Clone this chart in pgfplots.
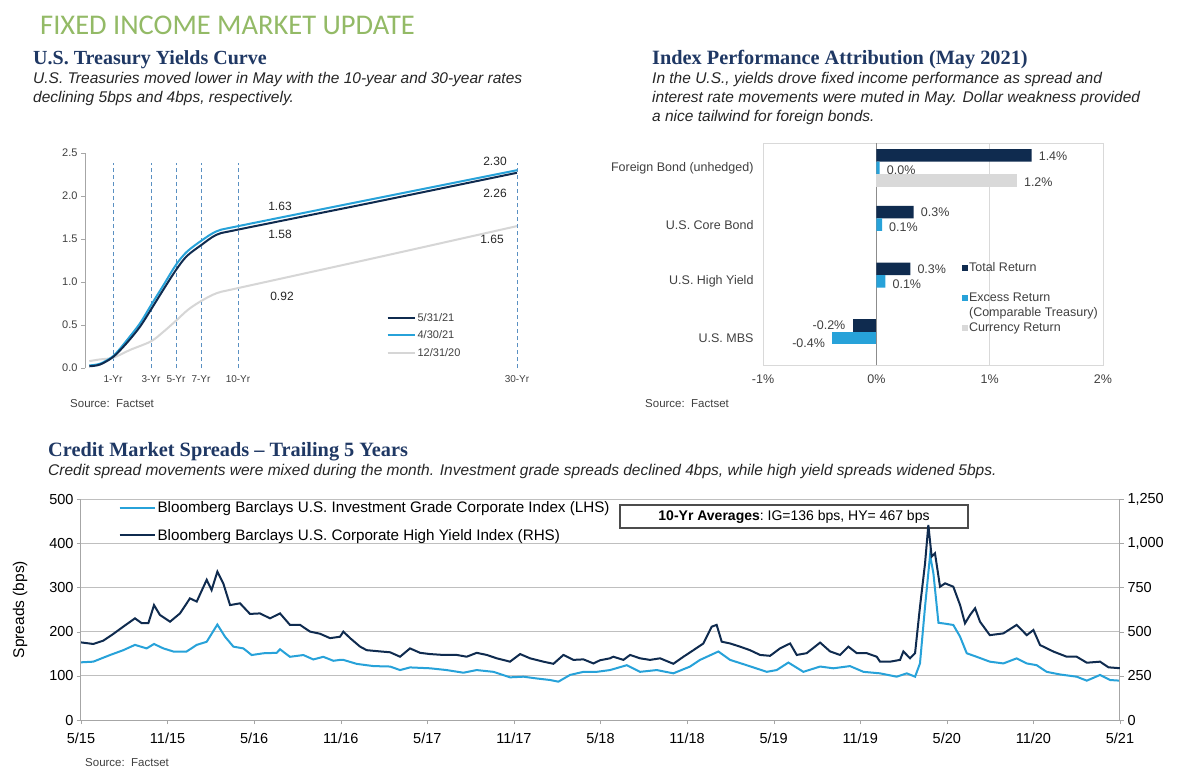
\documentclass[border=0pt]{standalone}
\usepackage{pgfplots}
\pgfplotsset{compat=1.18}
\usepackage{fontspec}
\setmainfont{Liberation Sans}
\newfontfamily\titlefont{Carlito}
\newfontfamily\headfont{Liberation Serif}
\definecolor{navy}{HTML}{0F2B4F}
\definecolor{ltblue}{HTML}{27A2D9}
\definecolor{curgray}{HTML}{D9D9D9}
\definecolor{oldgray}{HTML}{D6D6D6}
\definecolor{dashblue}{HTML}{5A90C2}
\definecolor{titlegreen}{HTML}{93BA66}
\definecolor{headnavy}{HTML}{1F3864}
\definecolor{txt}{HTML}{262626}
\definecolor{lbl}{HTML}{404040}
\definecolor{boxgray}{HTML}{D9D9D9}
\definecolor{zerogray}{HTML}{8C8C8C}
\definecolor{gridgray}{HTML}{BFBFBF}
\definecolor{axgray}{HTML}{A6A6A6}
\newcommand{\fs}[1]{\fontsize{#1}{#1}\selectfont}
\pgfplotsset{sqleg/.style={legend image code/.code={\fill[##1] (0pt,-3pt) rectangle (6pt,3pt);}}}
\begin{document}
\begin{tikzpicture}[x=1pt,y=1pt]
\path[use as bounding box] (0,0) rectangle (1200,-777);
\fill[white] (0,0) rectangle (1200,-777);

\node[anchor=base west,inner sep=0,text=titlegreen,font=\titlefont\fs{28.5}] at (40,-34) {FIXED INCOME MARKET UPDATE};

\node[anchor=base west,inner sep=0,text=headnavy,font=\headfont\bfseries\fs{20}] at (33,-64) {U.S. Treasury Yields Curve};
\node[anchor=base west,inner sep=0,text=txt,font=\itshape\fs{15.5}] at (33,-83) {U.S. Treasuries moved lower in May with the 10-year and 30-year rates};
\node[anchor=base west,inner sep=0,text=txt,font=\itshape\fs{15.5}] at (33,-102) {declining 5bps and 4bps, respectively.};

\node[anchor=base west,inner sep=0,text=headnavy,font=\headfont\bfseries\fs{20.3}] at (652,-64) {Index Performance Attribution (May 2021)};
\node[anchor=base west,inner sep=0,text=txt,font=\itshape\fs{15.5}] at (652,-83) {In the U.S., yields drove fixed income performance as spread and};
\node[anchor=base west,inner sep=0,text=txt,font=\itshape\fs{15.5}] at (652,-102) {interest rate movements were muted in May. Dollar weakness provided};
\node[anchor=base west,inner sep=0,text=txt,font=\itshape\fs{15.5}] at (652,-121) {a nice tailwind for foreign bonds.};

\node[anchor=base west,inner sep=0,text=headnavy,font=\headfont\bfseries\fs{20.3}] at (48,-456) {Credit Market Spreads – Trailing 5 Years};
\node[anchor=base west,inner sep=0,text=txt,font=\itshape\fs{15.5}] at (48,-475) {Credit spread movements were mixed during the month. Investment grade spreads declined 4bps, while high yield spreads widened 5bps.};

% ---------------- Yield curve
\begin{axis}[
  at={(85pt,-368pt)}, anchor=south west, scale only axis,
  width=440pt, height=215pt,
  xmin=0, xmax=440, ymin=0, ymax=2.5,
  axis lines*=left, axis line style={-},
  x axis line style={draw=none},
  y axis line style={draw=axgray},
  xtick={28,66,91,116,153,432},
  xticklabels={1-Yr,3-Yr,5-Yr,7-Yr,10-Yr,30-Yr},
  xtick style={draw=none},
  ytick={0,0.5,1,1.5,2,2.5},
  ytick style={draw=axgray},
  tick align=outside, major tick length=4pt,
  yticklabel style={/pgf/number format/.cd, fixed, fixed zerofill, precision=1},
  tick label style={font=\fs{11}, text=lbl},
  xticklabel style={font=\fs{10}},
  /pgf/number format/assume math mode=true,
  legend style={at={(rel axis cs:0.685,0.265)}, anchor=north west, draw=none, fill=none,
     font=\fs{11}, text=lbl, row sep=4pt, inner sep=0pt},
  legend cell align=left,
  legend image code/.code={\draw[#1] (0pt,0pt) -- (27pt,0pt);},
]
\addplot[ycomb, dashblue, line width=0.9pt, dash pattern=on 4pt off 3pt, forget plot]
  coordinates {(28,2.38) (66,2.38) (91,2.38) (116,2.38) (153,2.38) (432,2.38)};
\addplot[oldgray, line width=2pt, smooth, tension=0.5, forget plot] coordinates {
 (4.3,0.08) (15,0.10) (28.3,0.12) (45,0.21) (66,0.31) (78.3,0.42) (91,0.55) (103.3,0.68)
 (116.3,0.78) (131.7,0.87) (153.3,0.93) (290,1.28) (432,1.65)};
\addplot[ltblue, line width=2pt, smooth, tension=0.5, forget plot] coordinates {
 (4.3,0.03) (15,0.05) (28.3,0.14) (41.7,0.32) (55,0.52) (66,0.73) (78.3,0.96) (91,1.20)
 (101.7,1.35) (116.3,1.48) (131.7,1.59) (153.3,1.65) (290,1.97) (432,2.30)};
\addplot[navy, line width=2pt, smooth, tension=0.5] coordinates {
 (4.3,0.02) (15,0.04) (28.3,0.13) (41.7,0.29) (55,0.48) (66,0.68) (78.3,0.91) (91,1.14)
 (101.7,1.30) (116.3,1.43) (131.7,1.55) (153.3,1.61) (290,1.93) (432,2.27)};
\addlegendentry{5/31/21}
\addlegendimage{ltblue, line width=2pt}
\addlegendentry{4/30/21}
\addlegendimage{oldgray, line width=2pt}
\addlegendentry{12/31/20}
\node[font=\fs{12}, text=txt] at (axis cs:195,1.88) {1.63};
\node[font=\fs{12}, text=txt] at (axis cs:195,1.55) {1.58};
\node[font=\fs{12}, text=txt] at (axis cs:197,0.83) {0.92};
\node[font=\fs{12}, text=txt] at (axis cs:410,2.40) {2.30};
\node[font=\fs{12}, text=txt] at (axis cs:410,2.03) {2.26};
\node[font=\fs{12}, text=txt] at (axis cs:407,1.49) {1.65};
\end{axis}
\node[anchor=base west,inner sep=0,text=lbl,font=\fs{11.5}] at (70,-407) {Source:\ \ Factset};

% ---------------- Bar chart
\begin{axis}[
  at={(763pt,-365pt)}, anchor=south west, scale only axis,
  width=340pt, height=222pt,
  xmin=-1, xmax=2, ymin=-0.476, ymax=3.44,
  xtick={-1,0,1,2}, xticklabels={-1\%,0\%,1\%,2\%},
  ytick={0,1,2,3},
  yticklabels={U.S. MBS,U.S. High Yield,U.S. Core Bond,Foreign Bond (unhedged)},
  axis line style={draw=boxgray, line width=1pt},
  xmajorgrids, major grid style={draw=boxgray, line width=1pt},
  extra x ticks={0}, extra x tick labels={},
  extra x tick style={grid=major, major grid style={draw=zerogray, line width=1.2pt}},
  major tick length=0pt, tick style={draw=none},
  tick label style={font=\fs{12.5}, text=lbl},
  xticklabel style={yshift=-6pt},
  yticklabel style={font=\fs{12.5}, xshift=-6pt},
  /pgf/number format/assume math mode=true,
  bar width=12.5pt,
  point meta=explicit symbolic,
  nodes near coords,
  every node near coord/.append style={font=\fs{12.5}, text=lbl, inner xsep=7pt, inner ysep=0pt},
  pos/.style={every node near coord/.append style={anchor=west}},
  neg/.style={every node near coord/.append style={anchor=east}},
  legend style={at={(rel axis cs:0.585,0.47)}, anchor=north west, draw=none, fill=none,
     font=\fs{12.5}, text=lbl, row sep=0.5pt, inner sep=0pt,
     nodes={inner sep=1pt, text height=9.5pt, text depth=3pt}},
  legend cell align=left,
]
\addplot[xbar, sqleg, pos, fill=navy, draw=none, bar shift=12.5pt,
  every node near coord/.append style={yshift=12pt}] coordinates
 {(1.37,3) [1.4\%] (0.33,2) [0.3\%] (0.30,1) [0.3\%]};
\addlegendentry{Total Return}
\addplot[xbar, neg, fill=navy, draw=none, bar shift=12.5pt, forget plot,
  every node near coord/.append style={yshift=12.5pt}] coordinates
 {(-0.21,0) [-0.2\%]};
\addlegendimage{empty legend}\addlegendentry{}
\addplot[xbar, sqleg, pos, fill=ltblue, draw=none, bar shift=0pt,
  every node near coord/.append style={yshift=-2.5pt}] coordinates
 {(0.03,3) [0.0\%] (0.05,2) [0.1\%] (0.08,1) [0.1\%]};
\addlegendentry{Excess Return}
\addplot[xbar, neg, fill=ltblue, draw=none, bar shift=0pt, forget plot,
  every node near coord/.append style={yshift=-5pt}] coordinates
 {(-0.39,0) [-0.4\%]};
\addlegendimage{empty legend}\addlegendentry{(Comparable Treasury)}
\addplot[xbar, sqleg, pos, fill=curgray, draw=none, bar shift=-12.5pt,
  every node near coord/.append style={yshift=-14pt}] coordinates
 {(1.24,3) [1.2\%]};
\addlegendentry{Currency Return}
\end{axis}
\node[anchor=base west,inner sep=0,text=lbl,font=\fs{11.5}] at (645,-407) {Source:\ \ Factset};

% ---------------- Credit spreads
\begin{axis}[
  at={(81pt,-720pt)}, anchor=south west, scale only axis,
  width=1039pt, height=221pt,
  xmin=0, xmax=72, ymin=0, ymax=500,
  axis lines*=left, axis line style={-, draw=axgray, line width=1pt},
  ymajorgrids, major grid style={draw=gridgray, line width=0.8pt},
  xtick={0,6,...,72},
  xticklabels={5/15,11/15,5/16,11/16,5/17,11/17,5/18,11/18,5/19,11/19,5/20,11/20,5/21},
  ytick={0,100,200,300,400,500},
  tick align=outside, major tick length=4pt, tick style={draw=axgray},
  tick label style={font=\fs{14.5}, text=black},
  xticklabel style={yshift=-5pt},
  ylabel={Spreads (bps)},
  ylabel style={at={(axis description cs:-0.0587,0.5)}, anchor=center, font=\fs{15.5}},
  /pgf/number format/assume math mode=true,
]
\addplot[ltblue, line width=2pt] coordinates {
(0,130.5) (0.85,132) (2.01,147) (2.93,158) (3.74,170) (4.55,162) (5.06,172) (5.71,162) (6.4,155) (7.32,155)
(8.02,170) (8.71,177) (9.45,216) (9.98,188.5) (10.56,166) (11.25,162) (11.83,147) (12.64,151) (13.56,152)
(13.79,160) (14.48,143) (15.41,147) (16.1,137) (16.79,143) (17.49,134) (17.95,136) (18.18,136) (19.11,127)
(20.26,122) (21.42,121) (22.11,113) (22.8,119) (24.19,117) (25.34,113) (26.5,107) (27.42,113) (28.58,109)
(29.73,96.5) (30.66,98) (31.58,94) (32.51,90.5) (33.08,86.7) (33.89,102) (34.82,109) (35.74,109) (36.66,113)
(37.82,124) (38.74,109) (39.9,113) (41.05,105.6) (42.21,121) (42.9,136) (44.17,155) (44.98,136) (46.13,124)
(47.52,109) (48.21,113) (49.02,130) (50.06,109) (51.22,121) (52.14,117) (53.29,122) (54.22,109) (55.37,105.6)
(56.53,98) (57.22,105.6) (57.8,98) (58.14,128) (58.49,256) (58.84,373) (59.07,332) (59.42,220) (59.88,218)
(60.45,215) (60.92,188.5) (61.38,151) (62.07,143) (62.98,132) (63.92,128) (64.84,139.5) (65.54,128)
(66.23,124) (66.92,109) (67.85,103) (69,98) (69.7,89) (70.62,102) (71.31,90.5) (72,89)};
\end{axis}
\node[draw=black!70, line width=1.2pt, fill=white, minimum width=348pt, minimum height=23pt, inner sep=0pt,
  font=\fs{14}] at (794,-516.5) {\textbf{10-Yr Averages}:\ IG=136 bps, HY= 467 bps};
\begin{axis}[
  at={(81pt,-720pt)}, anchor=south west, scale only axis,
  width=1039pt, height=221pt,
  xmin=0, xmax=72, ymin=0, ymax=1250,
  axis x line=none, axis y line*=right, axis line style={-, draw=axgray, line width=1pt},
  ytick={0,250,500,750,1000,1250},
  tick align=outside, major tick length=4pt, tick style={draw=axgray},
  yticklabel style={font=\fs{14.5}, text=black, /pgf/number format/1000 sep={,}},
  /pgf/number format/assume math mode=true,
  legend style={at={(rel axis cs:0.036,0.998)}, anchor=north west, draw=none, fill=none,
     font=\fs{15.2}, text=black, row sep=11pt, inner sep=0pt},
  legend cell align=left,
  legend image code/.code={\draw[#1] (0pt,0pt) -- (35pt,0pt);},
]
\addlegendimage{ltblue, line width=2pt}
\addlegendentry{Bloomberg Barclays U.S. Investment Grade Corporate Index (LHS)}
\addplot[navy, line width=2pt] coordinates {
(0,439) (0.85,430) (1.55,449) (2.24,487) (2.93,528) (3.74,575) (4.2,548) (4.67,548) (5.06,650) (5.47,594)
(6.17,556) (6.86,603) (7.55,688) (8.02,670) (8.71,793) (9.05,735) (9.45,839) (9.86,773) (10.33,650) (11.02,660)
(11.71,600) (12.4,603) (13.1,575) (13.79,603) (14.48,538) (15.18,538) (15.87,500) (16.56,488) (17.26,463)
(17.95,471) (18.18,500) (18.65,463) (19.34,415) (19.8,395) (20.72,388) (21.42,383) (22.11,358) (22.8,405)
(23.5,380) (24.19,373) (25.11,368) (26.04,368) (26.73,358) (27.42,380) (28.12,368) (28.81,349) (29.73,330)
(30.43,373) (31.12,349) (32.04,330) (32.74,318) (33.43,368) (34.12,340) (34.82,343) (35.51,320) (35.97,338)
(36.66,349) (36.89,358) (37.59,340) (38.05,368) (38.74,349) (39.43,340) (40.13,349) (41.05,318) (41.75,358)
(42.44,395) (43.13,433) (43.71,528) (44.05,538) (44.4,443) (44.98,433) (45.67,415) (46.36,395) (47.06,368)
(47.75,363) (48.44,405) (49.14,433) (49.6,368) (50.29,378) (51.22,438) (51.91,388) (52.6,368) (53.18,415)
(53.76,378) (54.45,378) (55.14,358) (55.37,330) (56.07,330) (56.76,340) (56.99,388) (57.45,349) (57.8,378)
(58.14,640) (58.49,885) (58.72,1103) (58.95,924) (59.18,943) (59.53,754) (59.88,773) (60.45,754) (60.92,650)
(61.26,547) (61.61,594) (61.96,632) (62.3,556) (62.98,480) (63.92,490) (64.84,538) (65.54,480) (66,509)
(66.46,424) (67.39,387) (68.31,358) (69,358) (69.7,324) (70.62,330) (71.2,298) (72,293)};
\addlegendentry{Bloomberg Barclays U.S. Corporate High Yield Index (RHS)}
\end{axis}
\node[anchor=base west,inner sep=0,text=lbl,font=\fs{11.5}] at (85,-766) {Source:\ \ Factset};
\end{tikzpicture}
\end{document}
